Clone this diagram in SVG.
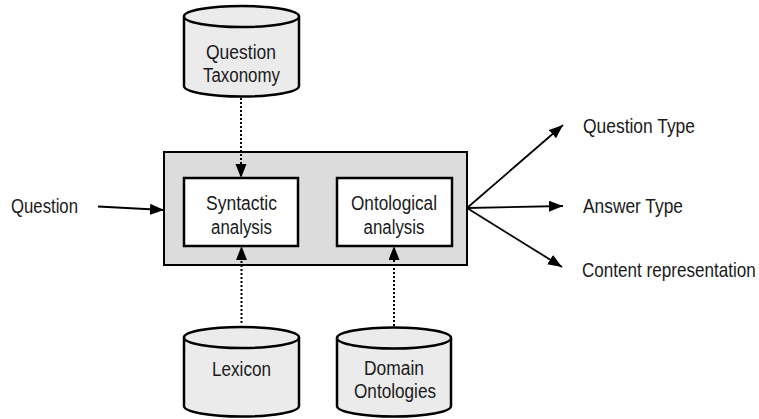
<svg xmlns="http://www.w3.org/2000/svg" width="759" height="419" viewBox="0 0 759 419">
<style>
text{font-family:"Liberation Sans",Arial,sans-serif;font-size:20px;fill:#1a1a1a}
.cyl{fill:#ebebeb;stroke:#000;stroke-width:2.5}
.box{fill:#fff;stroke:#000;stroke-width:2.5}
.main{fill:#dcdcdc;stroke:#000;stroke-width:2}
.solid{stroke:#000;stroke-width:1.8;fill:none}
.dot{stroke:#000;stroke-width:2;stroke-dasharray:2 2;fill:none}
</style>
<defs>
<marker id="ah" markerUnits="userSpaceOnUse" markerWidth="15" markerHeight="12" refX="14" refY="5.5" orient="auto">
<path d="M0,0 L14,5.5 L0,11 z" fill="#000"/>
</marker>
</defs>
<rect width="759" height="419" fill="#fff"/>
<g id="main-box"><rect class="main" x="164" y="152" width="303" height="113"/></g>
<g id="syntactic">
<rect class="box" x="184" y="178" width="114" height="68"/>
<text x="241.5" y="210" text-anchor="middle" textLength="71" lengthAdjust="spacingAndGlyphs">Syntactic</text>
<text x="241.5" y="234" text-anchor="middle" textLength="61" lengthAdjust="spacingAndGlyphs">analysis</text>
</g>
<g id="ontological">
<rect class="box" x="337" y="178" width="115" height="68"/>
<text x="394" y="210" text-anchor="middle" textLength="86" lengthAdjust="spacingAndGlyphs">Ontological</text>
<text x="394" y="234" text-anchor="middle" textLength="61" lengthAdjust="spacingAndGlyphs">analysis</text>
</g>
<g id="question-taxonomy">
<path class="cyl" d="M184,16.5 L184,86 A57.5,10.5 0 0 0 299,86 L299,16.5"/>
<ellipse class="cyl" cx="241.5" cy="16.5" rx="57.5" ry="10.5"/>
<text x="241" y="59" text-anchor="middle" textLength="70" lengthAdjust="spacingAndGlyphs">Question</text>
<text x="241.5" y="82" text-anchor="middle" textLength="77" lengthAdjust="spacingAndGlyphs">Taxonomy</text>
</g>
<g id="lexicon">
<path class="cyl" d="M184,337.5 L184,406 A57.5,10.5 0 0 0 299,406 L299,337.5"/>
<ellipse class="cyl" cx="241.5" cy="337.5" rx="57.5" ry="10.5"/>
<text x="241.5" y="376" text-anchor="middle" textLength="59" lengthAdjust="spacingAndGlyphs">Lexicon</text>
</g>
<g id="domain-ontologies">
<path class="cyl" d="M337,338 L337,406 A57,10.5 0 0 0 451,406 L451,338"/>
<ellipse class="cyl" cx="394" cy="338" rx="57" ry="10.5"/>
<text x="394" y="375" text-anchor="middle" textLength="60" lengthAdjust="spacingAndGlyphs">Domain</text>
<text x="395" y="398" text-anchor="middle" textLength="82" lengthAdjust="spacingAndGlyphs">Ontologies</text>
</g>
<g id="question-in"><text x="11" y="213" textLength="67" lengthAdjust="spacingAndGlyphs">Question</text></g>
<g id="question-type"><text x="583" y="133" textLength="112" lengthAdjust="spacingAndGlyphs">Question Type</text></g>
<g id="answer-type"><text x="583" y="213" textLength="100" lengthAdjust="spacingAndGlyphs">Answer Type</text></g>
<g id="content-rep"><text transform="translate(582,277) scale(0.855,1)" x="0" y="0">Content representation</text></g>
<g id="connectors">
<line class="solid" x1="98" y1="206.5" x2="164" y2="210" marker-end="url(#ah)"/>
<line class="dot" x1="241" y1="98" x2="241" y2="178" marker-end="url(#ah)"/>
<line class="dot" x1="241.5" y1="323" x2="241.5" y2="246" marker-end="url(#ah)"/>
<line class="dot" x1="394" y1="326" x2="394" y2="246" marker-end="url(#ah)"/>
<line class="solid" x1="467" y1="208" x2="563" y2="125" marker-end="url(#ah)"/>
<line class="solid" x1="467" y1="208" x2="563" y2="206" marker-end="url(#ah)"/>
<line class="solid" x1="467" y1="208" x2="562" y2="267" marker-end="url(#ah)"/>
</g>
</svg>
